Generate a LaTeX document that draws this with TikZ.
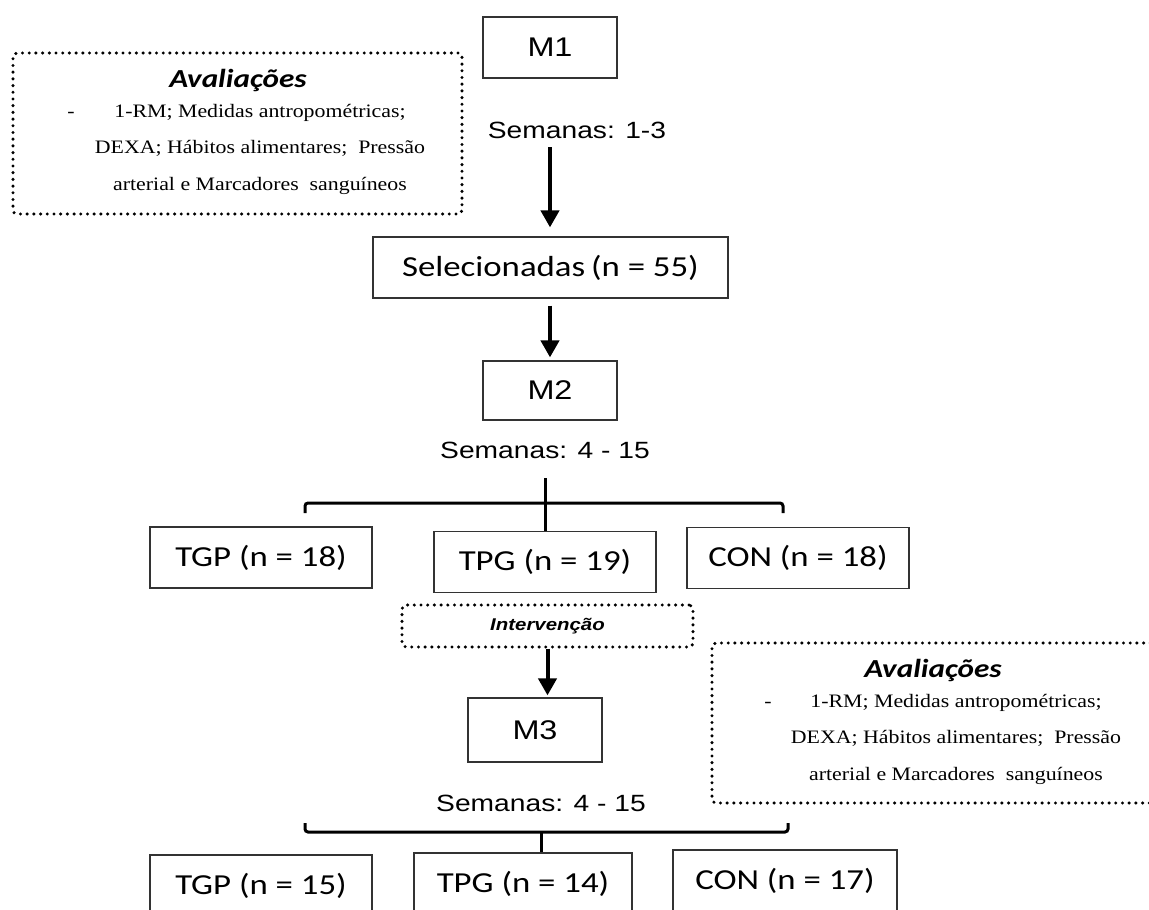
\documentclass[tikz,border=0pt]{standalone}
\usepackage{fontspec}
\usepackage{tikz}
\usetikzlibrary{arrows.meta,positioning}
\newfontfamily\arialf[FakeStretch=1.2]{Liberation Sans}
\newfontfamily\calibf[FakeStretch=1.2]{Carlito}
\newfontfamily\serifa[FakeStretch=1.15]{Liberation Serif}

\tikzset{
  caixa/.style={draw=black!80, line width=1.2pt, inner sep=0pt,
    font=\calibf\fontsize{29}{34}\selectfont},
  caixaM/.style={caixa, minimum width=134pt, minimum height=61pt,
    font=\arialf\fontsize{27}{32}\selectfont},
  grupo/.style={caixa, minimum width=222pt, minimum height=61pt},
  pontilhado/.style={draw, line width=3.4pt, dash pattern=on 0pt off 6.7pt,
    line cap=round, rounded corners=4pt},
  semana/.style={font=\arialf\fontsize{23.5}{28}\selectfont, anchor=base, inner sep=0pt},
  flecha/.style={line width=4pt, -{Triangle[length=17pt,width=18pt]}},
  chave/.style={line width=3pt, rounded corners=3pt},
  titulo/.style={font=\calibf\bfseries\itshape\fontsize{26}{30}\selectfont,
    anchor=base, inner sep=0pt},
  linha/.style={font=\serifa\fontsize{19}{23}\selectfont, anchor=base, inner sep=0pt}
}

\begin{document}
\begin{tikzpicture}[x=1pt,y=-1pt]
  \useasboundingbox (0,0) rectangle (1149,910);
  \clip (0,0) rectangle (1149,910);

  % avaliacoes (M1)
  \node[pontilhado, minimum width=449pt, minimum height=161pt] (aval1) at (237.5,133.5) {};
  \node[titulo] (aval1tit) at (238,87) {Avaliações};
  \node[linha] (aval1tr) at (71,117) {-};
  \node[linha] (aval1a) at (260,117) {1-RM;\ Medidas antropométricas;};
  \node[linha] (aval1b) at (260,153) {DEXA;\ Hábitos alimentares;\ \ Pressão};
  \node[linha] (aval1c) at (260,190) {arterial\ e\ Marcadores\ \ sanguíneos};

  % linha central
  \node[caixaM] (m1) at (550,47.5) {M1};
  \node[semana] (sem1) at (577,138) {Semanas: 1-3};
  \node[caixa, minimum width=355pt, minimum height=61pt] (sel) at (550.5,267.5)
    {Selecionadas\kern-2pt\ (n = 55)};
  \node[caixaM, minimum height=59pt] (m2) at (550,390.5) {M2};
  \node[semana] (sem2) at (545,458) {Semanas: 4 - 15};

  \coordinate (a1) at (550,147);
  \draw[flecha, shorten >=9pt] (a1) -- (a1 |- sel.north);
  \draw[flecha, shorten <=7pt, shorten >=3pt] (m2.north |- sel.south) -- (m2.north);

  % grupos iniciais
  \node[grupo] (tgp1) at (261,557.5) {TGP (n = 18)};
  \node[grupo] (tpg1) at (545,562) {TPG (n = 19)};
  \node[grupo] (con1) at (798,558) {CON (n = 18)};
  \draw[chave] (305,513) -- (305,503) -- (783,503) -- (783,513);
  \coordinate (c1) at (545,478);
  \draw[chave] (c1) -- (tpg1.north);

  \node[pontilhado, minimum width=291pt, minimum height=42pt,
    font=\arialf\bfseries\itshape\fontsize{17}{20}\selectfont] (interv) at (547.5,626) {Intervenção};
  \node[caixaM, minimum height=64pt] (m3) at (535,730) {M3};
  \draw[flecha, shorten >=2pt] (interv.south) -- (interv.south |- m3.north);

  % avaliacoes (M3)
  \node[pontilhado, minimum width=449pt, minimum height=160pt] (aval2) at (936.5,723) {};
  \node[titulo] (aval2tit) at (933,677) {Avaliações};
  \node[linha] (aval2tr) at (768,707) {-};
  \node[linha] (aval2a) at (956,707) {1-RM;\ Medidas antropométricas;};
  \node[linha] (aval2b) at (956,743) {DEXA;\ Hábitos alimentares;\ \ Pressão};
  \node[linha] (aval2c) at (956,780) {arterial\ e\ Marcadores\ \ sanguíneos};

  % grupos finais
  \node[semana] (sem3) at (541,811) {Semanas: 4 - 15};
  \node[grupo] (tgp2) at (261,885.5) {TGP (n = 15)};
  \node[grupo, minimum width=218pt] (tpg2) at (523,883.5) {TPG (n = 14)};
  \node[grupo, minimum width=224pt] (con2) at (785,880.5) {CON (n = 17)};
  \draw[chave] (305,823) -- (305,832) -- (788,832) -- (788,823);
  \coordinate (c2) at (541,832);
  \draw[chave] (c2) -- (c2 |- tpg2.north);
\end{tikzpicture}
\end{document}
